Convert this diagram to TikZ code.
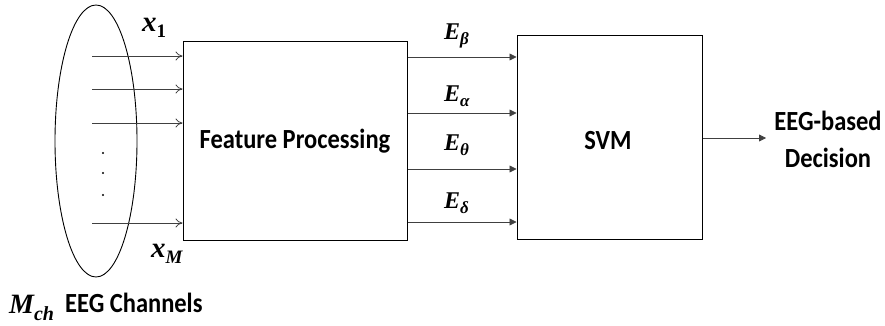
\documentclass[tikz,border=0pt]{standalone}
\usepackage{fontspec}
\setmainfont{Carlito}
\newfontfamily\mf{Liberation Serif}
\usetikzlibrary{arrows.meta,shapes.geometric}
\newcommand{\tallt}[1]{\scalebox{1}[1.13]{#1}}
\newcommand{\fsz}[1]{\fontsize{#1}{#1}\selectfont}
\begin{document}
\begin{tikzpicture}[x=1pt,y=-1pt,
  blk/.style={draw,line width=1pt},
  lbl/.style={font=\fontsize{24.5}{37}\selectfont\bfseries, align=center, inner sep=0pt},
  mlbl/.style={inner sep=0pt, anchor=base west},
  inarr/.style={draw=black!75,line width=0.8pt,-{To[length=7pt,width=9pt]}},
  outarr/.style={draw=black!75,line width=0.8pt,-{Triangle[length=7pt,width=7pt]}}]
\useasboundingbox (0,0) rectangle (885,326);
\node[draw,line width=0.9pt,ellipse,minimum width=82pt,minimum height=272pt,inner sep=0pt] (ell) at (96,141) {};
\node[blk,minimum width=224pt,minimum height=198pt,inner sep=0pt] (fp) at (295,141) {};
\node[lbl] (fpt) at (295,141) {\tallt{Feature Processing}};
\node[blk,minimum width=185pt,minimum height=203pt,inner sep=0pt] (svm) at (609.5,137.5) {};
\node[lbl] (svmt) at (608,141) {\tallt{SVM}};
% inputs
\foreach \y/\n in {56/a,89/b,123/c,223/d}{
  \coordinate (s\n) at (92,\y);
  \draw[inarr] (s\n) -- (fp.west |- s\n);
}
\foreach \y/\n in {153/1,173/2,195/3}{
  \fill (103,\y) circle (1.2pt) coordinate (dot\n);
}
\node[mlbl] (x1) at (142,32) {{\mf\bfseries\itshape\fsz{29}x\raisebox{-6pt}{\fsz{19}\upshape 1}}};
\node[mlbl] (xm) at (151,257) {{\mf\bfseries\itshape\fsz{29}x\raisebox{-6pt}{\fsz{19}M}}};
\node[mlbl] (mcha) at (9,313) {{\mf\bfseries\itshape\fsz{28}M\raisebox{-7pt}{\fsz{20}ch}}};
\node[lbl,anchor=base west] (mch) at (65,312) {\tallt{EEG Channels}};
% features
\node[mlbl] (eb) at (444,40) {{\mf\bfseries\itshape\fsz{24}E\raisebox{-5pt}{\fsz{17}β}}};
\node[mlbl] (ea) at (444,102) {{\mf\bfseries\itshape\fsz{24}E\raisebox{-5pt}{\fsz{17}α}}};
\node[mlbl] (et) at (444,150) {{\mf\bfseries\itshape\fsz{24}E\raisebox{-5pt}{\fsz{17}θ}}};
\node[mlbl] (ed) at (444,208) {{\mf\bfseries\itshape\fsz{24}E\raisebox{-5pt}{\fsz{17}δ}}};
\foreach \y/\n in {57/b,113/a,169/t,222/d}{
  \coordinate (f\n) at (fp.east |- 0,\y);
  \draw[outarr] (f\n) -- (svm.west |- f\n);
}
\coordinate (outpt) at (766,138);
\draw[outarr] (svm.east |- outpt) -- (outpt);
\node[lbl] (dec) at (828,139) {\tallt{EEG-based}\\\tallt{Decision}};
\end{tikzpicture}
\end{document}
